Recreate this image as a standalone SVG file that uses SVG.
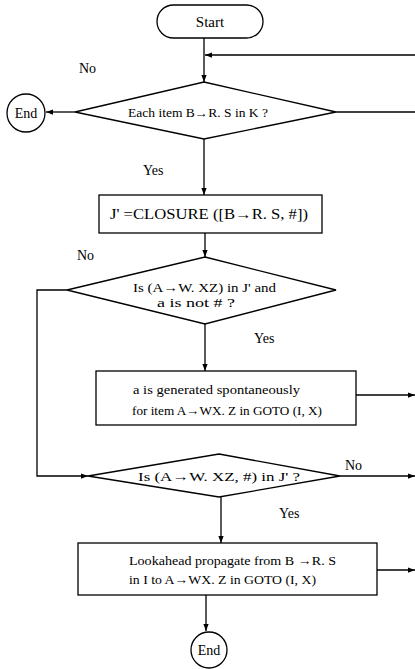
<svg xmlns="http://www.w3.org/2000/svg" width="415" height="669" viewBox="0 0 415 669" font-family="Liberation Serif, serif">
<style>
.s{fill:none;stroke:#000;stroke-width:1.3}
.n{fill:#fff;stroke:#000;stroke-width:1.3}
text{fill:#000}
.t{font-size:12.5px}
.l{font-size:14px}
</style>
<defs>
<marker id="a" viewBox="0 0 8 8" refX="8" refY="4" markerWidth="7" markerHeight="7" markerUnits="userSpaceOnUse" orient="auto">
<path d="M0,1 L8,4 L0,7 Z" fill="#000"/>
</marker>
</defs>
<g id="connectors">
<path class="s" d="M204,38 V82" marker-end="url(#a)"/>
<path class="s" d="M415,55 H205" marker-end="url(#a)"/>
<path class="s" d="M75,112 H46" marker-end="url(#a)"/>
<path class="s" d="M336,112 H415"/>
<path class="s" d="M204,139 V195" marker-end="url(#a)"/>
<path class="s" d="M205,233 V257" marker-end="url(#a)"/>
<path class="s" d="M67,290 H37 V476 H88" marker-end="url(#a)"/>
<path class="s" d="M205,324 V371" marker-end="url(#a)"/>
<path class="s" d="M356,395 H415" marker-end="url(#a)"/>
<path class="s" d="M340,476 H415" marker-end="url(#a)"/>
<path class="s" d="M221,497 V543" marker-end="url(#a)"/>
<path class="s" d="M377,570 H415" marker-end="url(#a)"/>
<path class="s" d="M206,595 V631" marker-end="url(#a)"/>
</g>
<g id="labels" class="l" font-family="Liberation Serif, serif">
<text x="79" y="73">No</text>
<text x="143" y="175">Yes</text>
<text x="77" y="260">No</text>
<text x="254" y="343">Yes</text>
<text x="345" y="470">No</text>
<text x="279" y="518">Yes</text>
</g>
<g id="start" font-family="Liberation Serif, serif">
<rect class="n" x="157" y="5" width="106" height="33" rx="16.5"/>
<text x="210" y="27" text-anchor="middle" font-size="15">Start</text>
</g>
<g id="d1" font-family="Liberation Serif, serif">
<polygon class="n" points="204,82 336,112 204,139 75,112"/>
<text x="128" y="117" textLength="140" lengthAdjust="spacingAndGlyphs" font-size="12">Each item B→R. S in K ?</text>
</g>
<g id="end1" font-family="Liberation Serif, serif">
<circle class="n" cx="26" cy="113" r="19"/>
<text x="26" y="118" text-anchor="middle" font-size="14">End</text>
</g>
<g id="b1" font-family="Liberation Serif, serif">
<rect class="n" x="99" y="195" width="223" height="38"/>
<text x="110" y="219" textLength="198" lengthAdjust="spacingAndGlyphs" font-size="14">J' =CLOSURE ([B→R. S, #])</text>
</g>
<g id="d2" font-family="Liberation Serif, serif">
<polygon class="n" points="205,257 336,290 205,324 67,290"/>
<text class="t" x="133" y="292" textLength="143" lengthAdjust="spacingAndGlyphs">Is (A→W. XZ) in J' and</text>
<text class="t" x="157" y="307" textLength="78" lengthAdjust="spacingAndGlyphs">a is not # ?</text>
</g>
<g id="b2" font-family="Liberation Serif, serif">
<rect class="n" x="96" y="371" width="260" height="54"/>
<text class="t" x="133" y="394" textLength="167" lengthAdjust="spacingAndGlyphs">a is generated spontaneously</text>
<text class="t" x="132" y="415" textLength="190" lengthAdjust="spacingAndGlyphs">for item A→WX. Z in GOTO (I, X)</text>
</g>
<g id="d3" font-family="Liberation Serif, serif">
<polygon class="n" points="219,454 340,476 219,497 88,476"/>
<text class="t" x="138" y="481" textLength="162" lengthAdjust="spacingAndGlyphs">Is (A→W. XZ, #) in J' ?</text>
</g>
<g id="b3" font-family="Liberation Serif, serif">
<rect class="n" x="78" y="543" width="299" height="52"/>
<text class="t" x="129" y="565" textLength="207" lengthAdjust="spacingAndGlyphs">Lookahead propagate from B →R. S</text>
<text class="t" x="129" y="584" textLength="187" lengthAdjust="spacingAndGlyphs">in I to A→WX. Z in GOTO (I, X)</text>
</g>
<g id="end2" font-family="Liberation Serif, serif">
<circle class="n" cx="209" cy="650" r="18"/>
<text x="209" y="655" text-anchor="middle" font-size="14">End</text>
</g>
</svg>
